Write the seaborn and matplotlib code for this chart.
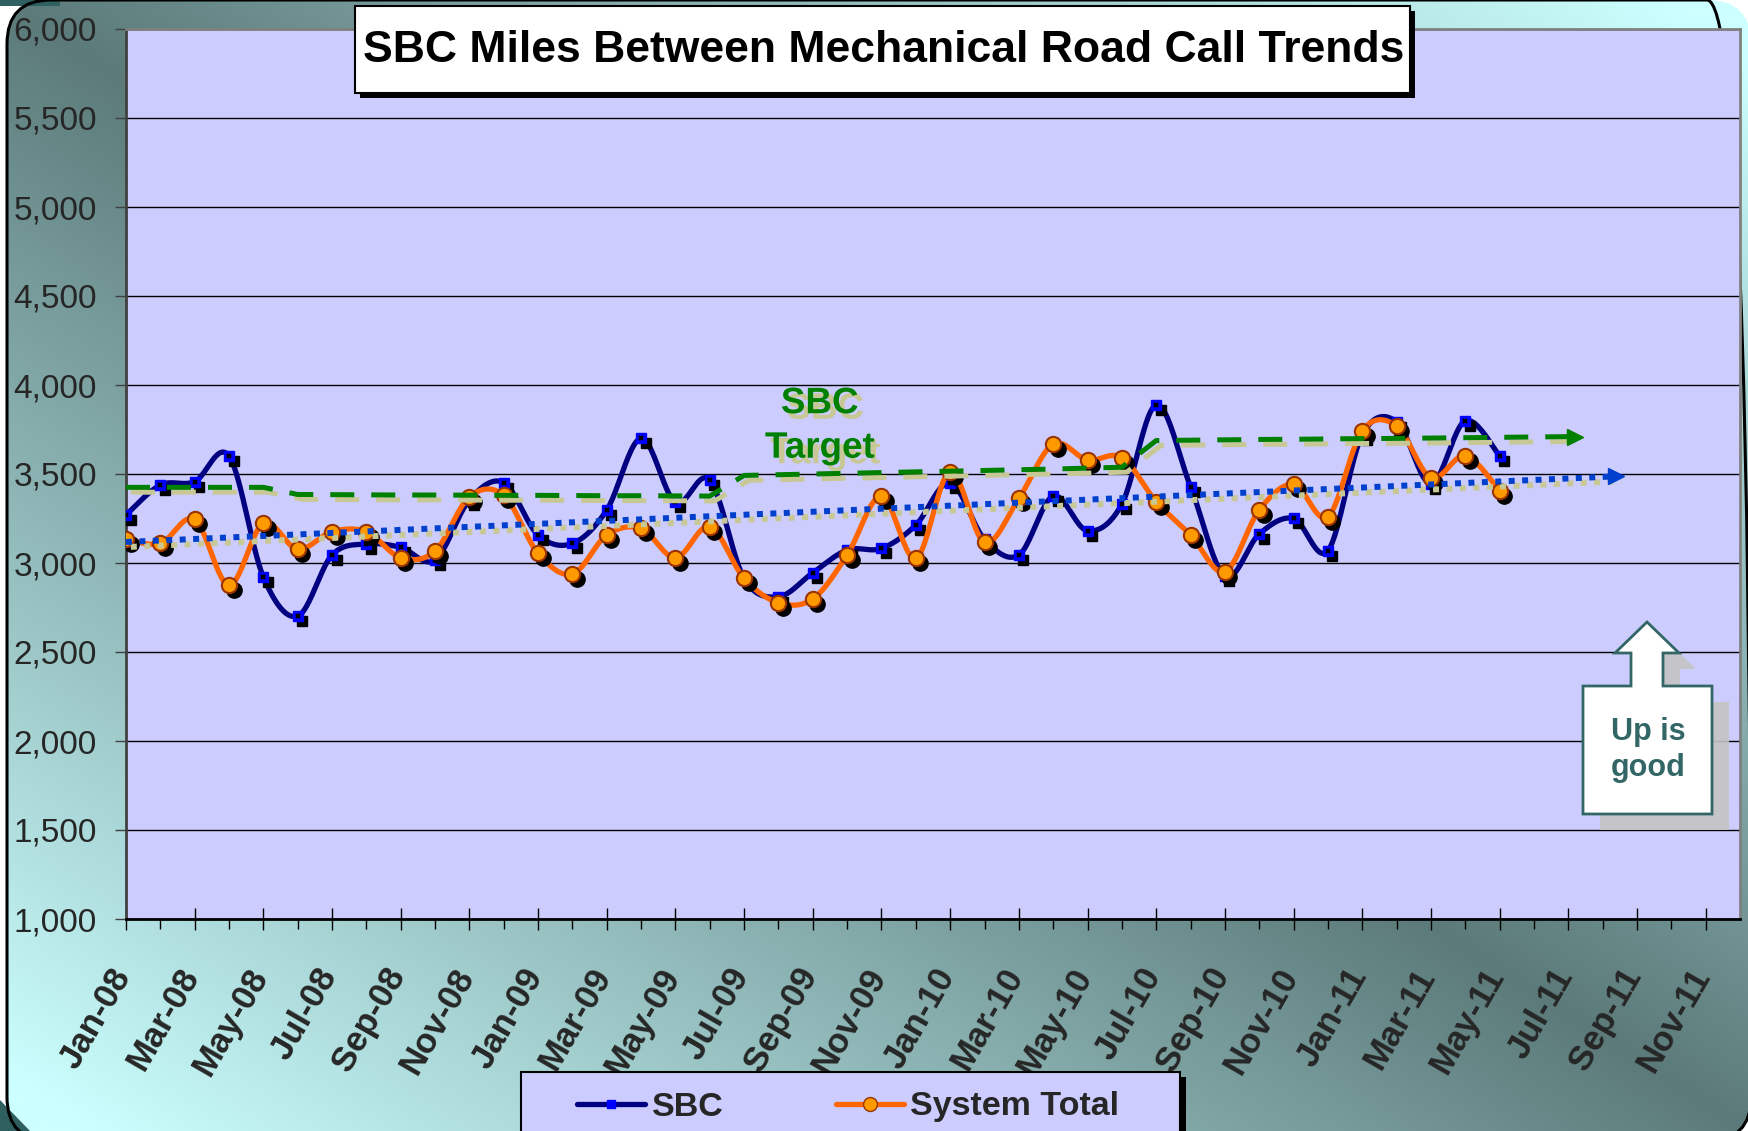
import numpy as np
import pandas as pd
import matplotlib
matplotlib.use("Agg")
import matplotlib.pyplot as plt
import seaborn as sns
from matplotlib.patches import FancyBboxPatch, Rectangle, Polygon
from matplotlib.lines import Line2D
from matplotlib.transforms import offset_copy, ScaledTranslation
import matplotlib.patheffects as pe

# ---------------- data ----------------
tick_labels = ["Jan-08", "Mar-08", "May-08", "Jul-08", "Sep-08", "Nov-08",
               "Jan-09", "Mar-09", "May-09", "Jul-09", "Sep-09", "Nov-09",
               "Jan-10", "Mar-10", "May-10", "Jul-10", "Sep-10", "Nov-10",
               "Jan-11", "Mar-11", "May-11", "Jul-11", "Sep-11", "Nov-11"]

# monthly values, Jan-08 .. May-11
sbc = [3270, 3438, 3457, 3601, 2921, 2702, 3045, 3107, 3088, 3017, 3355, 3451,
       3157, 3110, 3298, 3700, 3340, 3466, 2913, 2811, 2945, 3073, 3082, 3213,
       3451, 3133, 3045, 3376, 3181, 3331, 3888, 3429, 2925, 3163, 3250, 3069,
       3720, 3794, 3445, 3799, 3603]
system_total = [3133, 3110, 3245, 2876, 3223, 3077, 3176, 3176, 3030, 3067, 3372, 3380,
                3054, 2938, 3157, 3194, 3029, 3204, 2913, 2777, 2798, 3045, 3376, 3026,
                3513, 3116, 3363, 3668, 3579, 3592, 3345, 3157, 2951, 3298, 3442, 3260,
                3743, 3770, 3479, 3603, 3406]
# SBC target, Jan-08 .. Jul-11
sbc_target = [3425, 3425, 3425, 3425, 3425,
              3385, 3384, 3383, 3382, 3382, 3381, 3380, 3380, 3379, 3378, 3378, 3377, 3376,
              3492, 3496, 3500, 3504, 3508, 3512, 3516, 3520, 3524, 3528, 3533, 3538,
              3688, 3690, 3692, 3694, 3695, 3697, 3699, 3700, 3702, 3704, 3706, 3708, 3710]
# linear trend line
trend_months = [0, 43.4]
trend_values = [3118, 3487]

W, H = 1748, 1131

sns.set_style("white")
plt.rcParams["font.family"] = ["Liberation Sans", "DejaVu Sans"]


def smooth_curve(x, y, n=24):
    x = np.asarray(x, float)
    y = np.asarray(y, float)
    P = np.column_stack([x, y])
    P = np.vstack([P[0], P, P[-1]])
    t = np.linspace(0, 1, n, endpoint=False)[:, None]
    out = []
    for i in range(len(x) - 1):
        p_1, p0, p1, p2 = P[i], P[i + 1], P[i + 2], P[i + 3]
        c1 = p0 + (p1 - p_1) / 6.0
        c2 = p1 - (p2 - p0) / 6.0
        b = ((1 - t) ** 3) * p0 + 3 * ((1 - t) ** 2) * t * c1 + 3 * (1 - t) * t ** 2 * c2 + t ** 3 * p1
        out.append(b)
    out.append(P[-2][None, :])
    out = np.vstack(out)
    return out[:, 0], out[:, 1]


fig = plt.figure(figsize=(W / 100, H / 100), dpi=100, facecolor="white")

# ---------------- background with gradient & rounded border ----------------
bg = fig.add_axes([0, 0, 1, 1], zorder=0)
bg.set_xlim(0, W)
bg.set_ylim(0, H)
bg.set_axis_off()
bg.add_patch(Rectangle((0, H - 6), 60, 6, fc="#2f5f5f", ec="none"))
bg.add_patch(Polygon([(0, H - 1100), (0, 0), (30, 0)], closed=True, fc="#2f5f5f", ec="none"))
gx = np.linspace(0, 1, 350)
gy = np.linspace(0, 1, 230)
U, V = np.meshgrid(gx, gy)
T = np.clip(np.abs(U - V) * 1.05, 0, 1)
dark = np.array([0x5c, 0x7a, 0x7a]) / 255.0
light = np.array([0xcc, 0xff, 0xff]) / 255.0
img = dark + (light - dark) * T[..., None]
im = bg.imshow(img, extent=(0, W, 0, H), origin="upper", aspect="auto",
               interpolation="bilinear")
box = FancyBboxPatch((7, -10), W - 4, H + 10, boxstyle="round,pad=0,rounding_size=44",
                     fc="none", ec="black", lw=2.2)
bg.add_patch(box)
im.set_clip_path(box)

# ---------------- main axes ----------------
ax = fig.add_axes([126 / W, 1 - 919 / H, (1740 - 126) / W, (919 - 29) / H], zorder=1)
ax.set_facecolor("#CCCCFF")
ax.set_xlim(0, 47)
ax.set_ylim(1000, 6000)

ax.grid(axis="y", color="black", lw=1)
ax.grid(axis="x", visible=False)
ax.set_axisbelow(True)

for s in ["top", "right"]:
    ax.spines[s].set_color("#808080")
    ax.spines[s].set_linewidth(2)
ax.spines["left"].set_color("#404040")
ax.spines["left"].set_linewidth(2)
ax.spines["bottom"].set_color("black")
ax.spines["bottom"].set_linewidth(2)

months_sbc = np.arange(len(sbc))
months_sys = np.arange(len(system_total))
months_target = np.arange(len(sbc_target))

shadow_tr = offset_copy(ax.transData, fig=fig, x=4.5, y=-5, units="dots")

# SBC series
xs, ys = smooth_curve(months_sbc, sbc)
sns.lineplot(x=xs, y=ys, ax=ax, color="#000080", lw=3.8, estimator=None, sort=False,
             legend=False, zorder=3)
ax.plot(months_sbc, sbc, ls="none", marker="s", ms=7.5, mfc="black", mec="black",
        transform=shadow_tr, zorder=3.1)
ax.plot(months_sbc, sbc, ls="none", marker="s", ms=7.5, mfc="#0000FF", mec="#0000FF",
        zorder=3.2)
ax.plot(months_sbc, sbc, ls="none", marker="x", ms=3.5, mew=1.6, color="black", zorder=3.3)

# System Total series
xs2, ys2 = smooth_curve(months_sys, system_total)
sns.lineplot(x=xs2, y=ys2, ax=ax, color="#FF6600", lw=3.8, estimator=None, sort=False,
             legend=False, zorder=4)
ax.plot(months_sys, system_total, ls="none", marker="o", ms=11, mfc="black", mec="black",
        transform=shadow_tr, zorder=4.1)
ax.plot(months_sys, system_total, ls="none", marker="o", ms=11, mfc="#FF9900",
        mec="#993300", mew=1.5, zorder=4.2)

tan = "#C8C896"
# target line
ax.plot(months_target, sbc_target, color="#008000", lw=3.6, dashes=(4.8, 3.4),
        dash_capstyle="butt", zorder=5,
        path_effects=[pe.SimpleLineShadow(offset=(3.5, -3.5), shadow_color=tan, alpha=1),
                      pe.Normal()])
ax.plot([months_target[-1] + 0.2], [sbc_target[-1]], ls="none", marker=">", ms=12,
        color="#008000", zorder=5)

# trend line
ax.plot(trend_months, trend_values, color="#0040CC", lw=4.3, dashes=(1.0, 1.25),
        dash_capstyle="butt", zorder=6,
        path_effects=[pe.SimpleLineShadow(offset=(3.5, -3.5), shadow_color=tan, alpha=1),
                      pe.Normal()])
ax.plot([trend_months[-1]], [trend_values[-1]], ls="none", marker=">", ms=12,
        color="#0040CC", zorder=6)

# SBC Target label
for txt, yv in [("SBC", 3895), ("Target", 3645)]:
    ax.text(20.2, yv, txt, ha="center", va="center", fontsize=26.5, fontweight="bold",
            color="#008000", zorder=7,
            path_effects=[pe.SimplePatchShadow(offset=(4, -4), shadow_rgbFace=tan, alpha=1),
                          pe.Normal()])

# ticks
ax.set_yticks(np.arange(1000, 6001, 500))
ax.set_yticklabels([f"{v:,}" for v in range(1000, 6001, 500)], fontsize=24)
ax.set_xticks(np.arange(0, 47, 2))
ax.set_xticks(np.arange(1, 47, 2), minor=True)
ax.tick_params(axis="y", which="major", left=True, direction="out", length=8, width=1,
               color="#404040", pad=13, labelsize=24)
ax.tick_params(axis="x", which="major", bottom=True, direction="inout", length=16, width=1,
               color="black", pad=29)
ax.tick_params(axis="x", which="minor", bottom=True, direction="out", length=7, width=1,
               color="black")
ax.set_xticklabels(tick_labels, rotation=60, ha="right", va="center",
                   rotation_mode="anchor", fontsize=25, fontweight="bold")
shift = ScaledTranslation(-3 / 100, 0, fig.dpi_scale_trans)
for lab in ax.get_xticklabels():
    lab.set_transform(lab.get_transform() + shift)
ax.set_xlabel("")
ax.set_ylabel("")

# ---------------- overlay: title, callout, legend ----------------
ov = fig.add_axes([0, 0, 1, 1], zorder=3)
ov.set_xlim(0, W)
ov.set_ylim(H, 0)
ov.set_axis_off()
ov.patch.set_alpha(0)

ov.add_patch(Rectangle((360, 11), 1055, 87, fc="black", ec="none"))
ov.add_patch(Rectangle((355, 6), 1055, 87, fc="white", ec="black", lw=1.5))
ov.text(884, 50, "SBC Miles Between Mechanical Road Call Trends", ha="center",
        va="center", fontsize=32, fontweight="bold", color="black")

pts = np.array([(1647, 622), (1679, 653), (1663, 653), (1663, 686), (1712, 686),
                (1712, 814), (1583, 814), (1583, 686), (1631, 686), (1631, 653),
                (1615, 653)])
ov.add_patch(Polygon(pts + np.array([17, 16]), closed=True, fc="#C4C4C4", ec="none",
                     alpha=0.9))
ov.add_patch(Polygon(pts, closed=True, fc="white", ec="#336666", lw=2))
ov.text(1648, 750, "Up is\ngood", ha="center", va="center", fontsize=22,
        fontweight="bold", color="#336666", linespacing=1.3)

ov.add_patch(Rectangle((527, 1077), 659, 80, fc="black", ec="none"))
ov.add_patch(Rectangle((521, 1072), 659, 80, fc="#CCCCFF", ec="black", lw=1.5))
handles = [Line2D([0], [0], color="#000080", lw=3.8, marker="s", ms=6,
                  mfc="#0000FF", mec="#0000FF"),
           Line2D([0], [0], color="#FF6600", lw=3.8, marker="o", ms=10,
                  mfc="#FF9900", mec="#993300")]
ov.legend(handles, ["SBC", "System Total"], loc="center", bbox_to_anchor=(848, 1107),
          bbox_transform=ov.transData, ncol=2, frameon=False,
          prop=dict(weight="bold", size=24.5), handlelength=2.0, handletextpad=0.2,
          columnspacing=3.3)

fig.savefig("out.png", dpi=100, facecolor="white")
